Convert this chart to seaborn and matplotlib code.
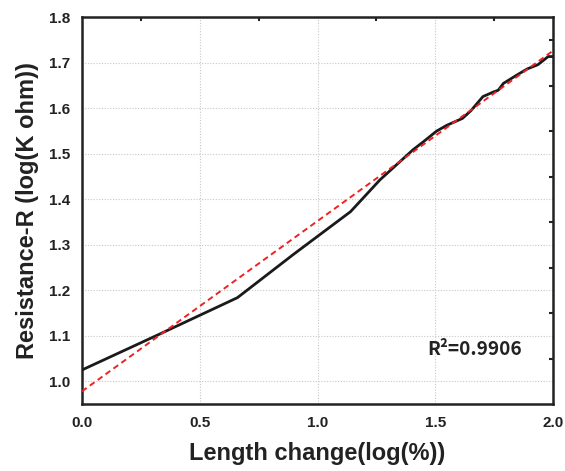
import numpy as np
import pandas as pd
import matplotlib
matplotlib.use("Agg")
import matplotlib.pyplot as plt
import seaborn as sns

# Data
length_log = [0.0, 0.33, 0.66, 0.90, 1.14, 1.265, 1.405, 1.45, 1.505, 1.549, 1.615, 1.651,
              1.702, 1.746, 1.767, 1.789, 1.848, 1.891, 1.935, 1.979, 2.0]
resist_log = [1.025, 1.104, 1.184, 1.280, 1.373, 1.443, 1.509, 1.527, 1.550, 1.563, 1.578, 1.595,
              1.626, 1.636, 1.640, 1.655, 1.674, 1.687, 1.696, 1.714, 1.714]
fit_x = [0.0, 2.0]
fit_y = [0.978, 1.727]
r2_text = "R²=0.9906"
x_label = "Length change(log(%))"
y_label = "Resistance-R (log(K ohm))"
x_ticks = [0.0, 0.5, 1.0, 1.5, 2.0]
y_ticks = [1.0, 1.1, 1.2, 1.3, 1.4, 1.5, 1.6, 1.7, 1.8]

sns.set_style("white")
plt.rcParams['font.family'] = ['Liberation Sans', 'DejaVu Sans']

fig = plt.figure(figsize=(5.65, 4.71), dpi=100)
ax = fig.add_axes([0.145, 0.142, 0.834, 0.821])

df = pd.DataFrame({"x": length_log, "y": resist_log})
dfit = pd.DataFrame({"x": fit_x, "y": fit_y})
sns.lineplot(data=df, x="x", y="y", ax=ax, color="#1a1a1a", lw=2.0, zorder=3)
sns.lineplot(data=dfit, x="x", y="y", ax=ax, color="#ee2222", lw=1.4, ls=(0, (3, 2)), zorder=4)

ax.set_xlim(0, 2.0)
ax.set_ylim(0.95, 1.8)
ax.set_xticks(x_ticks)
ax.set_yticks(y_ticks)
ax.set_xticklabels([f"{v:.1f}" for v in x_ticks], fontweight="bold", fontsize=11, color="#222222")
ax.set_yticklabels([f"{v:.1f}" for v in y_ticks], fontweight="bold", fontsize=11, color="#222222")
ax.set_xticks(np.arange(0.25, 2.0, 0.5), minor=True)
ax.set_yticks(np.arange(1.05, 1.8, 0.1), minor=True)
ax.tick_params(which="both", direction="out", width=1.5, color="#222222")
ax.tick_params(which="major", length=5)
ax.tick_params(which="minor", length=3)

ax.grid(True, which="major", color="#c8c8c8", lw=0.8, ls=(0, (1, 1.5)))

for s in ax.spines.values():
    s.set_visible(True)
    s.set_linewidth(1.8)
    s.set_color("#222222")

sx = ax.secondary_xaxis("top")
sx.set_xticks(np.arange(0.25, 2.0, 0.5))
sx.set_xticklabels([])
sx.tick_params(direction="in", length=3, width=1.5, color="#222222")
sx.spines["top"].set_visible(False)
sy = ax.secondary_yaxis("right")
sy.set_yticks(np.arange(1.05, 1.8, 0.1))
sy.set_yticklabels([])
sy.tick_params(direction="in", length=3, width=1.5, color="#222222")
sy.spines["right"].set_visible(False)

ax.set_xlabel(x_label, fontweight="bold", fontsize=17, labelpad=9, color="#222222")
ax.set_ylabel(y_label, fontweight="bold", fontsize=17, labelpad=7, color="#222222")

ax.text(1.667, 1.07, r2_text, fontsize=13.7, fontweight="bold", color="#222222",
        family=["Noto Sans CJK KR", "DejaVu Sans"], ha="center", va="center")

fig.savefig("out.png", dpi=100)
